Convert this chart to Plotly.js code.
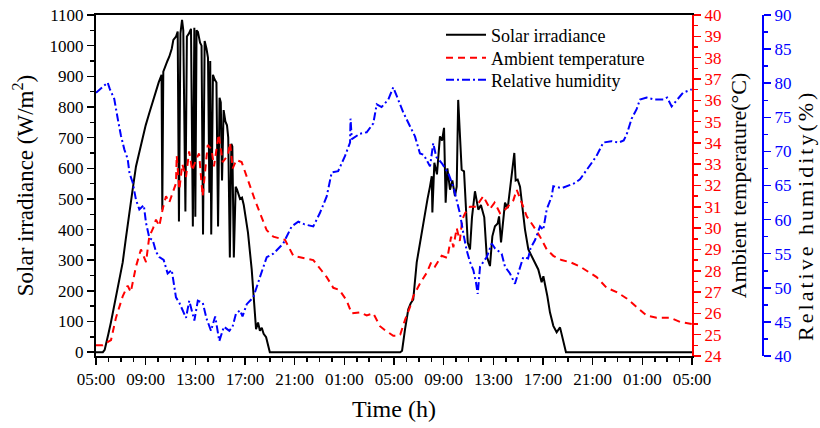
<!DOCTYPE html>
<html>
<head>
<meta charset="utf-8">
<script src="https://cdn.plot.ly/plotly-3.0.1.min.js"></script>
<style>html,body{margin:0;padding:0;background:#fff;}#chart{width:820px;height:428px;}</style>
</head>
<body>
<div id="chart"></div>
<script>
// Time axis: hours elapsed since 05:00 of day 1
const xTickVals = [0, 4, 8, 12, 16, 20, 24, 28, 32, 36, 40, 44, 48];
const xTickText = ["05:00", "09:00", "13:00", "17:00", "21:00", "01:00", "05:00", "09:00", "13:00", "17:00", "21:00", "01:00", "05:00"];

// Solar irradiance (W/m2)
const solarHours = [0,0.55,0.7,0.85,1.0,1.2,1.4,1.6,1.9,2.15,2.4,2.68,2.95,3.22,3.5,3.76,4.0,4.3,4.55,4.83,5.05,5.28,5.34,5.42,5.56,5.75,5.9,6.1,6.23,6.44,6.58,6.68,6.8,6.93,7.03,7.2,7.32,7.49,7.65,7.8,7.92,8.0,8.1,8.21,8.38,8.5,8.62,8.75,8.9,9.02,9.13,9.2,9.28,9.42,9.55,9.7,9.83,9.95,10.05,10.15,10.28,10.42,10.55,10.65,10.78,10.9,10.98,11.1,11.25,11.36,11.6,11.76,11.9,12.05,12.24,12.54,12.72,12.89,13.05,13.2,13.35,13.5,13.7,13.85,14.0,
  24.5,24.65,24.89,25.15,25.35,25.55,25.83,26.09,26.3,26.5,26.7,26.9,27.04,27.09,27.25,27.46,27.7,27.87,28.03,28.16,28.3,28.51,28.7,28.91,29.05,29.17,29.25,29.31,29.45,29.64,29.77,29.94,30.12,30.28,30.52,30.79,31.0,31.27,31.47,31.73,31.92,32.13,32.35,32.46,32.62,32.8,32.94,33.16,33.34,33.53,33.69,33.8,33.96,34.15,34.33,34.55,34.82,35.09,35.36,35.62,35.89,36.03,36.35,36.56,36.83,37.1,37.37,37.63,37.85,48];
const solarValues = [0,0,8,30,60,97,140,183,240,293,370,444,530,606,655,693,740,781,815,846,880,905,465,915,932,950,964,990,1019,1029,1046,426,1040,1084,1050,459,1030,1040,1055,410,1058,442,1050,1045,1010,1000,384,1015,990,960,520,950,384,905,890,880,410,830,815,560,790,753,740,700,309,680,671,309,540,530,500,504,480,440,390,270,183,75,97,70,80,60,49,20,0,
  0,5,75,140,160,172,293,358,410,456,500,541,574,456,618,580,704,690,732,488,600,530,560,509,540,823,760,730,595,590,465,358,335,440,525,465,480,440,313,281,378,411,420,443,358,420,488,470,530,580,650,560,563,540,476,400,335,313,290,270,228,248,183,130,86,65,81,42,0,0];

// Ambient temperature (°C)
const tempHours = [0,0.55,0.8,1.21,1.61,2.15,2.55,2.8,3.22,3.62,4.03,4.29,4.6,4.83,5.1,5.37,5.64,5.9,6.2,6.44,6.5,6.71,6.95,7.25,7.5,7.75,8.05,8.3,8.59,8.8,9.0,9.3,9.5,9.88,10.2,10.61,10.8,11.01,11.3,11.73,12.14,12.81,13.21,13.75,14.28,15.22,15.89,16.7,17.5,18.18,18.58,19.11,19.6,20.19,20.59,21.26,21.8,22.33,22.87,23.3,23.68,23.94,24.22,24.5,24.89,25.29,25.55,26.09,26.63,27.0,27.3,27.84,28.3,28.6,28.78,29.05,29.3,29.5,29.72,30.12,30.6,31.19,31.73,32.1,32.54,33.0,33.61,33.88,34.28,34.69,35.22,35.76,36.3,36.83,37.5,38.2,38.98,39.78,40.32,41.13,41.93,42.74,43.54,44.35,45.15,46.23,47.03,48];
const tempValues = [24.5,24.5,24.6,24.75,25.8,26.8,27.3,27.0,28.2,29.0,28.4,29.6,30.0,30.4,30.1,30.9,31.5,31.2,31.7,32.1,33.4,31.8,33.0,32.4,33.6,32.7,33.2,33.5,31.5,32.7,33.9,33.7,32.9,34.4,33.1,33.4,34.0,32.8,33.2,33.1,32.4,31.3,30.7,29.9,29.6,29.45,28.7,28.6,28.5,28.0,27.7,27.2,27.1,26.6,26.0,26.05,25.9,26.0,25.4,25.2,25.05,24.95,24.95,25.0,25.7,26.3,26.8,27.4,27.9,28.4,28.2,28.7,28.6,29.6,29.1,30.0,29.4,30.4,30.7,31.0,31.0,31.5,30.9,31.2,30.7,30.9,31.3,31.8,31.2,30.55,30.1,29.6,29.0,28.7,28.5,28.4,28.2,27.9,27.7,27.2,27.0,26.7,26.3,25.9,25.8,25.8,25.6,25.5];

// Relative humidity (%)
const humHours = [0,0.3,0.94,1.1,1.47,1.75,2.01,2.28,2.55,2.7,2.96,3.22,3.49,3.85,4.03,4.3,4.57,4.83,5.1,5.45,5.77,6.1,6.44,6.71,6.98,7.25,7.51,7.92,8.2,8.6,8.9,9.26,9.6,9.93,10.3,10.74,11.0,11.27,11.6,11.8,12.14,12.67,13.21,13.75,14.28,15.08,15.76,16.29,16.8,17.5,18.04,18.58,18.98,19.5,20.05,20.46,20.5,20.6,21.26,21.8,22.33,22.61,23.0,23.54,23.94,24.2,24.75,25.15,25.69,26.09,26.4,26.9,27.16,27.4,27.84,28.37,28.78,29.05,29.31,29.6,29.85,30.12,30.39,30.6,30.74,30.93,31.47,31.87,32.13,32.67,32.94,33.34,33.74,34.0,34.41,34.8,35.0,35.36,35.76,36.02,36.3,36.7,36.83,37.5,37.91,38.5,38.98,39.38,39.92,40.3,40.86,41.5,42.1,42.5,42.74,43.14,43.54,43.81,44.35,45.0,45.7,46.0,46.36,46.8,47.27,47.98];
const humValues = [78.6,79.1,80.1,79.2,77.7,74.8,72.3,70.3,68.9,66.8,65.4,62.9,61.5,62.1,59.5,57.3,57.0,55.3,54.5,54.1,52.1,52.6,48.6,47.8,46.7,45.6,48.1,45.2,48.1,47.8,45.5,43.7,45.8,42.2,44.3,43.7,44.3,46.2,46.7,45.8,47.6,48.6,51.6,54.5,55.0,56.5,59.0,59.7,59.3,59.0,61.0,63.4,66.9,67.1,69.3,71.3,74.8,71.8,72.6,72.8,74.1,76.9,76.5,77.6,79.4,78.2,75.7,74.2,72.2,69.7,69.5,67.8,71.2,69.2,68.3,66.8,64.8,62.8,60.9,57.8,55.5,53.8,52.6,50.8,49.1,53.1,54.5,56.5,55.8,55.0,53.1,52.1,50.6,52.1,54.5,54.3,55.8,57.0,59.0,58.5,61.5,63.4,64.9,64.6,64.9,65.3,65.9,66.9,68.4,69.3,71.3,71.5,71.3,71.6,72.5,74.8,76.2,77.6,77.9,77.6,77.6,77.9,76.6,77.5,78.6,79.1];

const FONT = "Liberation Serif, Times New Roman, serif";
const marginL = 96, marginR = 18, marginT = 15, marginB = 72;
const paperW = 820 - marginL - marginR;
const paperH = 428 - marginT - marginB;
const plotW = 596;

const traces = [
  {x: solarHours, y: solarValues, name: "Solar irradiance", type: "scatter", mode: "lines",
   line: {color: "#000000", width: 2}, xaxis: "x", yaxis: "y", legend: "legend"},
  {x: tempHours, y: tempValues, name: "Ambient temperature", type: "scatter", mode: "lines",
   line: {color: "#ff0000", width: 2, dash: "7px,5px"}, xaxis: "x", yaxis: "y2", legend: "legend2"},
  {x: humHours, y: humValues, name: "Relative humidity", type: "scatter", mode: "lines",
   line: {color: "#0000ff", width: 2, dash: "8px,3px,2px,3px"}, xaxis: "x", yaxis: "y3", legend: "legend3"}
];

function legendAt(topPx) {
  return {x: (441 - marginL) / paperW, y: 1 - (topPx - marginT) / paperH, xanchor: "left", yanchor: "top",
          bgcolor: "rgba(0,0,0,0)", font: {family: FONT, size: 18, color: "#000"}, itemwidth: 40};
}

const humTitle = "<span style=\"letter-spacing:3px\">Relative humidity(%)\u00a0\u00a0\u00a0\u00a0\u00a0\u00a0\u00a0</span>";

const tickFont = {family: FONT, size: 17};
const layout = {
  width: 820, height: 428,
  margin: {l: marginL, r: marginR, t: marginT, b: marginB},
  paper_bgcolor: "#ffffff", plot_bgcolor: "#ffffff",
  font: {family: FONT, color: "#000000"},
  showlegend: true,
  legend: legendAt(16.5),
  legend2: legendAt(39.5),
  legend3: legendAt(61.5),
  xaxis: {
    domain: [0, plotW / paperW], range: [0, 48],
    tickmode: "array", tickvals: xTickVals, ticktext: xTickText,
    ticks: "outside", ticklen: 7, tickwidth: 1.5, tickcolor: "#000",
    minor: {tickmode: "linear", tick0: 0, dtick: 1, ticks: "outside", ticklen: 4, tickwidth: 1.5, tickcolor: "#000", showgrid: false},
    showline: true, linewidth: 2, linecolor: "#000", mirror: true,
    showgrid: false, zeroline: false, tickfont: tickFont,
    title: {text: "Time (h)", font: {family: FONT, size: 24}, standoff: 12}
  },
  yaxis: {
    range: [-12.4, 1100], tickmode: "linear", tick0: 0, dtick: 100,
    ticks: "outside", ticklen: 7, tickwidth: 1.5, tickcolor: "#000",
    minor: {tickmode: "linear", tick0: 0, dtick: 50, ticks: "outside", ticklen: 4, tickwidth: 1.5, tickcolor: "#000", showgrid: false},
    showline: true, linewidth: 2, linecolor: "#000",
    showgrid: false, zeroline: false, tickfont: tickFont,
    title: {text: "Solar irradiance (W/m<sup>2</sup>)", font: {family: FONT, size: 23}, standoff: 10}
  },
  yaxis2: {
    overlaying: "y", side: "right", anchor: "x",
    range: [24, 40], tickmode: "linear", tick0: 24, dtick: 1,
    ticks: "outside", ticklen: 7, tickwidth: 1.5, tickcolor: "#ff0000",
    minor: {tickmode: "linear", tick0: 24, dtick: 0.5, ticks: "outside", ticklen: 4, tickwidth: 1.5, tickcolor: "#ff0000", showgrid: false},
    showline: true, linewidth: 2, linecolor: "#ff0000",
    showgrid: false, zeroline: false, tickfont: {family: FONT, size: 17, color: "#ff0000"},
    title: {text: "Ambient temperature(°C)", font: {family: FONT, size: 22, color: "#000"}, standoff: 10}
  },
  yaxis3: {
    overlaying: "y", side: "right", anchor: "free", position: (763 - marginL) / paperW,
    range: [40, 90], tickmode: "linear", tick0: 40, dtick: 5,
    ticks: "outside", ticklen: 7, tickwidth: 1.5, tickcolor: "#0000ff",
    minor: {tickmode: "linear", tick0: 40, dtick: 2.5, ticks: "outside", ticklen: 4, tickwidth: 1.5, tickcolor: "#0000ff", showgrid: false},
    showline: true, linewidth: 2, linecolor: "#0000ff",
    showgrid: false, zeroline: false, tickfont: {family: FONT, size: 17, color: "#0000ff"},
    title: {text: humTitle, font: {family: FONT, size: 22, color: "#000"}, standoff: 6}
  }
};

Plotly.newPlot("chart", traces, layout, {displayModeBar: false, staticPlot: true});
</script>
</body>
</html>
